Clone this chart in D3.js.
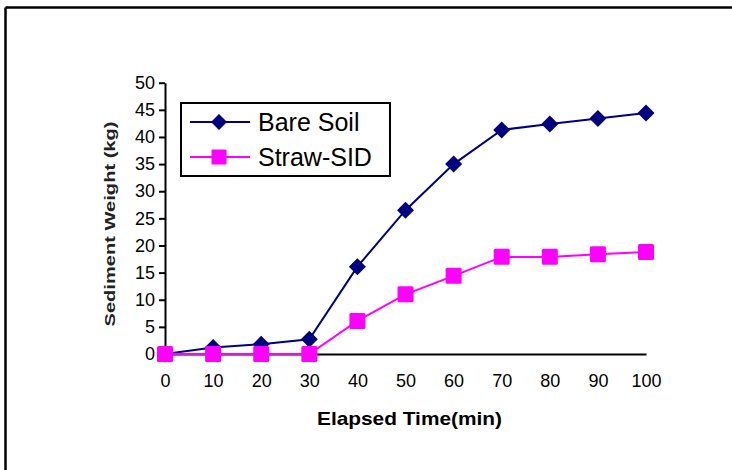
<!DOCTYPE html>
<html>
<head>
<meta charset="utf-8">
<script src="https://cdn.jsdelivr.net/npm/d3@7"></script>
<style>
  html, body { margin: 0; padding: 0; background: #fff; }
  svg { display: block; font-family: "Liberation Sans", Arial, sans-serif; }
</style>
</head>
<body>
<svg id="chart" width="732" height="470"></svg>
<script>
const times = [0, 10, 20, 30, 40, 50, 60, 70, 80, 90, 100];
const bareSoil = [0, 1.2, 1.8, 2.7, 16.1, 26.5, 35, 41.3, 42.4, 43.4, 44.4];
const strawSID = [0, 0, 0, 0, 6.1, 11, 14.4, 17.9, 17.9, 18.4, 18.8];
const xTicks = [0, 10, 20, 30, 40, 50, 60, 70, 80, 90, 100];
const yTicks = [0, 5, 10, 15, 20, 25, 30, 35, 40, 45, 50];
const seriesNames = ["Bare Soil", "Straw-SID"];
const seriesColors = ["#000080", "#ff00ff"];

const svg = d3.select("#chart");

// outer frame (left and top edges)
svg.append("line").attr("x1", 5.5).attr("y1", 7.5).attr("x2", 5.5).attr("y2", 470)
  .attr("stroke", "#000").attr("stroke-width", 2.5);
svg.append("line").attr("x1", 5.5).attr("y1", 7.5).attr("x2", 732).attr("y2", 7.5)
  .attr("stroke", "#000").attr("stroke-width", 2.5);

const x = d3.scaleLinear().domain([0, 100]).range([165, 646]);
const y = d3.scaleLinear().domain([0, 50]).range([354, 82.7]);

// y axis
const yAxis = svg.append("g").attr("transform", `translate(${x(0)},0)`)
  .call(d3.axisLeft(y).tickValues(yTicks).tickSize(6).tickPadding(4).tickSizeOuter(0));
yAxis.select(".domain").attr("stroke", "#000").attr("stroke-width", 2);
yAxis.selectAll(".tick line").attr("stroke", "#000").attr("stroke-width", 2);
yAxis.selectAll(".tick text").attr("font-size", 18).attr("fill", "#000")
  .attr("font-family", "Liberation Sans, Arial, sans-serif");

// x axis (no tick marks)
const xAxis = svg.append("g").attr("transform", `translate(0,${y(0)})`)
  .call(d3.axisBottom(x).tickValues(xTicks).tickSize(0).tickPadding(20).tickSizeOuter(0));
xAxis.select(".domain").attr("stroke", "#000").attr("stroke-width", 2);
xAxis.selectAll(".tick text").attr("font-size", 18).attr("fill", "#000")
  .attr("font-family", "Liberation Sans, Arial, sans-serif");

// axis titles
svg.append("text").attr("x", 409.5).attr("y", 425).attr("text-anchor", "middle")
  .attr("font-size", 19).attr("font-weight", "bold")
  .attr("textLength", 185).attr("lengthAdjust", "spacingAndGlyphs")
  .text("Elapsed Time(min)");
svg.append("text").attr("transform", "translate(115,224) rotate(-90)")
  .attr("text-anchor", "middle").attr("font-size", 15).attr("font-weight", "bold")
  .attr("fill", "#222")
  .attr("textLength", 205).attr("lengthAdjust", "spacingAndGlyphs")
  .text("Sediment Weight (kg)");

const series = [bareSoil, strawSID];
const line = d3.line().x((d, i) => x(times[i])).y(d => y(d));

const diamond = (cx, cy, r) => `M${cx},${cy - r}L${cx + r},${cy}L${cx},${cy + r}L${cx - r},${cy}Z`;

series.forEach((vals, si) => {
  svg.append("path").datum(vals).attr("d", line)
    .attr("fill", "none").attr("stroke", seriesColors[si]).attr("stroke-width", 2);
});
// markers: bare soil first, then straw on top
bareSoil.forEach((v, i) => {
  svg.append("path").attr("d", diamond(x(times[i]), y(v), 8.5)).attr("fill", seriesColors[0]);
});
strawSID.forEach((v, i) => {
  svg.append("rect").attr("x", x(times[i]) - 8).attr("y", y(v) - 8)
    .attr("width", 16).attr("height", 16).attr("rx", 1.5).attr("fill", seriesColors[1]);
});

// legend
const lg = svg.append("g");
lg.append("rect").attr("x", 181).attr("y", 103).attr("width", 209).attr("height", 73)
  .attr("fill", "#fff").attr("stroke", "#000").attr("stroke-width", 2);
const rowsY = [122, 157];
seriesNames.forEach((name, i) => {
  lg.append("line").attr("x1", 190).attr("x2", 250).attr("y1", rowsY[i]).attr("y2", rowsY[i])
    .attr("stroke", seriesColors[i]).attr("stroke-width", 2);
  if (i === 0) {
    lg.append("path").attr("d", diamond(219, rowsY[i], 8)).attr("fill", seriesColors[i]);
  } else {
    lg.append("rect").attr("x", 211.5).attr("y", rowsY[i] - 7.5).attr("width", 15).attr("height", 15)
      .attr("rx", 1).attr("fill", seriesColors[i]);
  }
  lg.append("text").attr("x", 258).attr("y", rowsY[i]).attr("dy", "0.36em")
    .attr("font-size", 25).attr("fill", "#000").text(name);
});
</script>
</body>
</html>
